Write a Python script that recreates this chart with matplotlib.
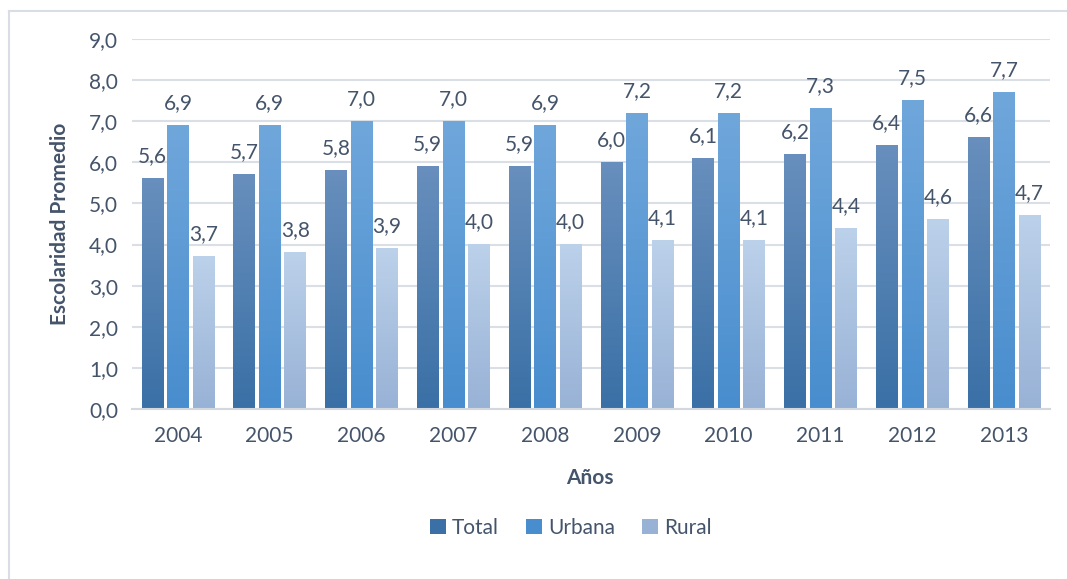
import matplotlib.pyplot as plt
import matplotlib as mpl
import numpy as np
from matplotlib.lines import Line2D
from matplotlib.patches import Patch

years = ['2004', '2005', '2006', '2007', '2008', '2009', '2010', '2011', '2012', '2013']
total = [5.6, 5.7, 5.8, 5.9, 5.9, 6.0, 6.1, 6.2, 6.4, 6.6]
urbana = [6.9, 6.9, 7.0, 7.0, 6.9, 7.2, 7.2, 7.3, 7.5, 7.7]
rural = [3.7, 3.8, 3.9, 4.0, 4.0, 4.1, 4.1, 4.4, 4.6, 4.7]
series_names = ['Total', 'Urbana', 'Rural']

# (bottom, top) colours of each series gradient
grads = [('#3a70a6', '#688fbd'), ('#488dce', '#70a7db'), ('#98b2d6', '#bcd1ea')]

txt = '#44546a'
fs = 15
plt.rcParams['font.family'] = ['Lato', 'DejaVu Sans']

fig = plt.figure(figsize=(10.67, 5.79), dpi=100)
W, H = 1067, 579

# light frame (only left and top edges show)
fig.lines.append(Line2D([8.5 / W, 8.5 / W], [0, 1 - 10.5 / H], transform=fig.transFigure,
                        color='#d9dee6', linewidth=1.5))
fig.lines.append(Line2D([8.5 / W, 1], [1 - 10.5 / H, 1 - 10.5 / H], transform=fig.transFigure,
                        color='#d9dee6', linewidth=1.5))

ax = fig.add_axes([132 / W, (H - 409) / H, (1050 - 132) / W, (409 - 39) / H])

x = np.arange(len(years))
bw = 0.234
step = 0.278
grad = np.linspace(0, 1, 256).reshape(-1, 1)

for k, vals in enumerate([total, urbana, rural]):
    cmap = mpl.colors.LinearSegmentedColormap.from_list('g%d' % k, grads[k])
    for i, v in enumerate(vals):
        xc = x[i] + (k - 1) * step
        ax.imshow(grad, extent=(xc - bw / 2, xc + bw / 2, 0, v), origin='lower',
                  cmap=cmap, aspect='auto', zorder=2)
        ax.text(xc, v + 0.3, ('%.1f' % v).replace('.', ','), ha='center', va='bottom',
                fontsize=fs, color=txt, zorder=3)

ax.set_xlim(-0.5, len(years) - 0.5)
ax.set_ylim(0, 9)
ax.set_yticks(np.arange(0, 10, 1))
ax.set_yticklabels([('%.1f' % t).replace('.', ',') for t in range(10)])
ax.set_xticks(x)
ax.set_xticklabels(years)
ax.tick_params(length=0, labelsize=fs, colors=txt, pad=10)
ax.tick_params(axis='x', pad=12)
ax.grid(axis='y', color='#dadee5', linewidth=1.5, zorder=0)
ax.set_axisbelow(True)
for s in ['top', 'right', 'left']:
    ax.spines[s].set_visible(False)
ax.spines['bottom'].set_color('#d3d8df')
ax.spines['bottom'].set_linewidth(1.5)

ax.set_ylabel('Escolaridad Promedio', fontsize=fs, fontweight='bold', color=txt, labelpad=14)
fig.text(590 / W, 1 - 478 / H, 'Años', ha='center', va='center', fontsize=fs,
         fontweight='bold', color=txt)

handles = [Patch(facecolor=grads[k][0], edgecolor='none') for k in range(3)]
fig.legend(handles, series_names, loc='center', bbox_to_anchor=(571 / W, 1 - 528 / H),
           ncol=3, frameon=False, fontsize=fs, labelcolor=txt, handlelength=0.75,
           handleheight=0.75, handletextpad=0.3, columnspacing=1.3)

fig.savefig('out.png', dpi=100)
